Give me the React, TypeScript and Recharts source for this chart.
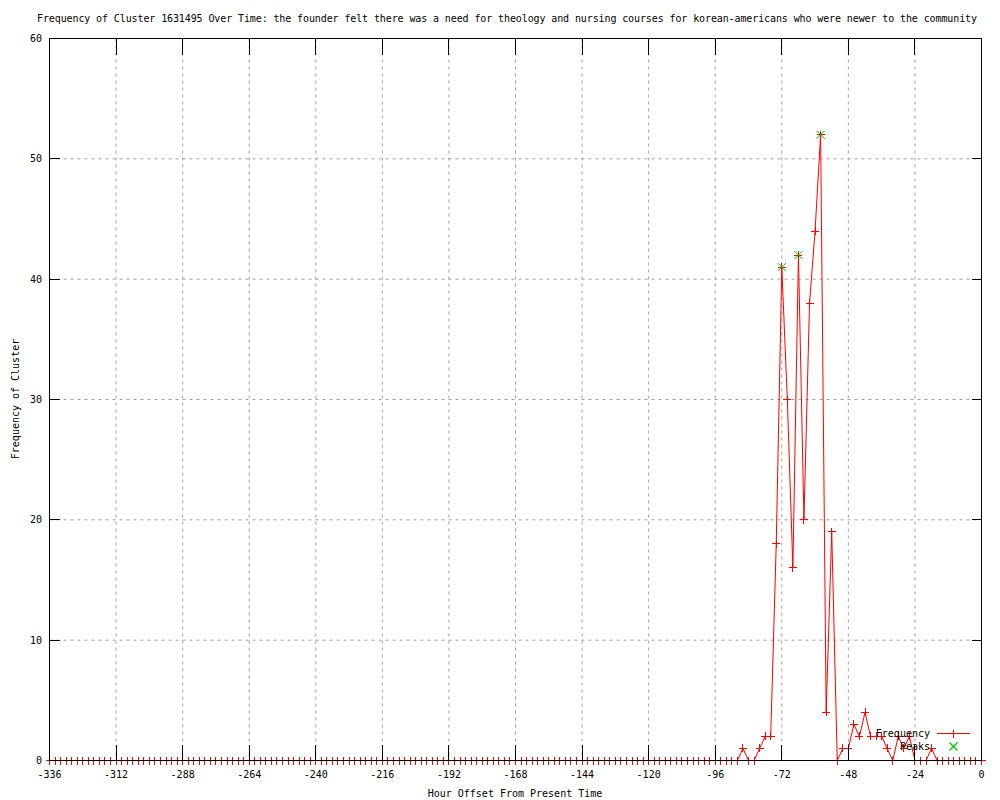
import React from "react";
import { LineChart, Line, XAxis, YAxis, CartesianGrid } from "recharts";

// hours run from -336 to 0 in 2 hour steps
const HOURS = Array.from({ length: 169 }, (_, i) => -336 + i * 2);

const FREQUENCY = [
  0, 0, 0, 0, 0, 0, 0, 0, 0, 0, 0, 0, 0, 0, 0, 0, 0, 0, 0, 0,
  0, 0, 0, 0, 0, 0, 0, 0, 0, 0, 0, 0, 0, 0, 0, 0, 0, 0, 0, 0,
  0, 0, 0, 0, 0, 0, 0, 0, 0, 0, 0, 0, 0, 0, 0, 0, 0, 0, 0, 0,
  0, 0, 0, 0, 0, 0, 0, 0, 0, 0, 0, 0, 0, 0, 0, 0, 0, 0, 0, 0,
  0, 0, 0, 0, 0, 0, 0, 0, 0, 0, 0, 0, 0, 0, 0, 0, 0, 0, 0, 0,
  0, 0, 0, 0, 0, 0, 0, 0, 0, 0, 0, 0, 0, 0, 0, 0, 0, 0, 0, 0,
  0, 0, 0, 0, 0, 1, 0, 0, 1, 2, 2, 18, 41, 30, 16, 42, 20, 38, 44, 52,
  4, 19, 0, 1, 1, 3, 2, 4, 2, 2, 2, 1, 0, 2, 1, 2, 0, 0, 0, 1,
  0, 0, 0, 0, 0, 0, 0, 0, 0,
];

const PEAK_HOURS = [-72, -66, -58];
const PEAK_VALUES = [41, 42, 52];

const X_TICKS = [-336, -312, -288, -264, -240, -216, -192, -168, -144, -120, -96, -72, -48, -24, 0];
const Y_TICKS = [0, 10, 20, 30, 40, 50, 60];

const TITLE =
  "Frequency of Cluster 1631495 Over Time: the founder felt there was a need for theology and nursing courses for korean-americans who were newer to the community";

const data = HOURS.map((hour, i) => {
  const p = PEAK_HOURS.indexOf(hour);
  return { hour, freq: FREQUENCY[i], peak: p >= 0 ? PEAK_VALUES[p] : null };
});

const FONT = "'DejaVu Sans Mono', monospace";
const LEFT = 49.5;
const RIGHT = 981.5;
const TOP = 38.5;
const BOTTOM = 760.5;
const RED = "#ff0000";
const GREEN = "#00c000";

const XTick = (props: any) => {
  const { x, payload } = props;
  return (
    <g>
      <line x1={x} x2={x} y1={BOTTOM} y2={BOTTOM - 16} stroke="#000" shapeRendering="crispEdges" />
      <line x1={x} x2={x} y1={TOP} y2={TOP + 16} stroke="#000" shapeRendering="crispEdges" />
      <text x={x} y={774} textAnchor="middle" dominantBaseline="central" fontFamily={FONT} fontSize={10} fill="#000">
        {payload.value}
      </text>
    </g>
  );
};

const YTick = (props: any) => {
  const { y, payload } = props;
  return (
    <g>
      <line x1={LEFT} x2={LEFT + 10} y1={y} y2={y} stroke="#000" shapeRendering="crispEdges" />
      <line x1={RIGHT - 10} x2={RIGHT} y1={y} y2={y} stroke="#000" shapeRendering="crispEdges" />
      <text x={42} y={y} textAnchor="end" dominantBaseline="central" fontFamily={FONT} fontSize={10} fill="#000">
        {payload.value}
      </text>
    </g>
  );
};

const plusPath = (cx: number, cy: number) => `M${cx - 4},${cy}h8M${cx},${cy - 4}v8`;
const crossPath = (cx: number, cy: number) => `M${cx - 4},${cy - 4}l8,8M${cx - 4},${cy + 4}l8,-8`;

const PlusDot = (props: any) => {
  const { cx, cy, index } = props;
  return (
    <path key={`f${index}`} d={plusPath(cx, cy)} stroke={RED} strokeWidth={1} fill="none" shapeRendering="crispEdges" />
  );
};

const CrossDot = (props: any) => {
  const { cx, cy, index, value } = props;
  if (value == null || cy == null) return <g key={`p${index}`} />;
  return <path key={`p${index}`} d={crossPath(cx, cy)} stroke={GREEN} strokeWidth={1} fill="none" />;
};

export default function App() {
  return (
    <div style={{ position: "absolute", left: 0, top: 0, width: 1000, height: 800, background: "#fff" }}>
      <LineChart width={1000} height={800} data={data} margin={{ top: 38.5, right: 18.5, bottom: 9.5, left: 9.5 }}>
        <CartesianGrid stroke="#a0a0a0" strokeDasharray="3 4" />
        <XAxis
          dataKey="hour"
          type="number"
          domain={[-336, 0]}
          ticks={X_TICKS}
          height={30}
          axisLine={false}
          tickLine={false}
          tick={<XTick />}
          interval={0}
        />
        <YAxis
          type="number"
          domain={[0, 60]}
          ticks={Y_TICKS}
          width={40}
          axisLine={false}
          tickLine={false}
          tick={<YTick />}
          interval={0}
        />
        <Line
          dataKey="freq"
          type="linear"
          stroke={RED}
          strokeWidth={1}
          dot={PlusDot}
          activeDot={false}
          isAnimationActive={false}
        />
        <Line
          dataKey="peak"
          type="linear"
          stroke="none"
          dot={CrossDot}
          activeDot={false}
          isAnimationActive={false}
        />
      </LineChart>
      <svg
        width={1000}
        height={800}
        style={{ position: "absolute", left: 0, top: 0, pointerEvents: "none" }}
        fontFamily={FONT}
        fontSize={10}
      >
        <rect
          x={LEFT}
          y={TOP}
          width={RIGHT - LEFT}
          height={BOTTOM - TOP}
          fill="none"
          stroke="#000"
          strokeWidth={1}
        />
        <text x={507} y={18} textAnchor="middle" dominantBaseline="central" textLength={940} lengthAdjust="spacing">
          {TITLE}
        </text>
        <text x={515} y={793} textAnchor="middle" dominantBaseline="central">
          Hour Offset From Present Time
        </text>
        <text x={15} y={399} textAnchor="middle" dominantBaseline="central" transform="rotate(-90 15 399)">
          Frequency of Cluster
        </text>
        <text x={930} y={733} textAnchor="end" dominantBaseline="central">
          Frequency
        </text>
        <line x1={937} x2={970} y1={733.5} y2={733.5} stroke={RED} strokeWidth={1.2} shapeRendering="crispEdges" />
        <path d={plusPath(953.5, 733.5)} stroke={RED} strokeWidth={1.2} fill="none" shapeRendering="crispEdges" />
        <text x={930} y={746} textAnchor="end" dominantBaseline="central">
          Peaks
        </text>
        <path d={crossPath(953.5, 746.5)} stroke={GREEN} strokeWidth={1.2} fill="none" />
      </svg>
    </div>
  );
}
